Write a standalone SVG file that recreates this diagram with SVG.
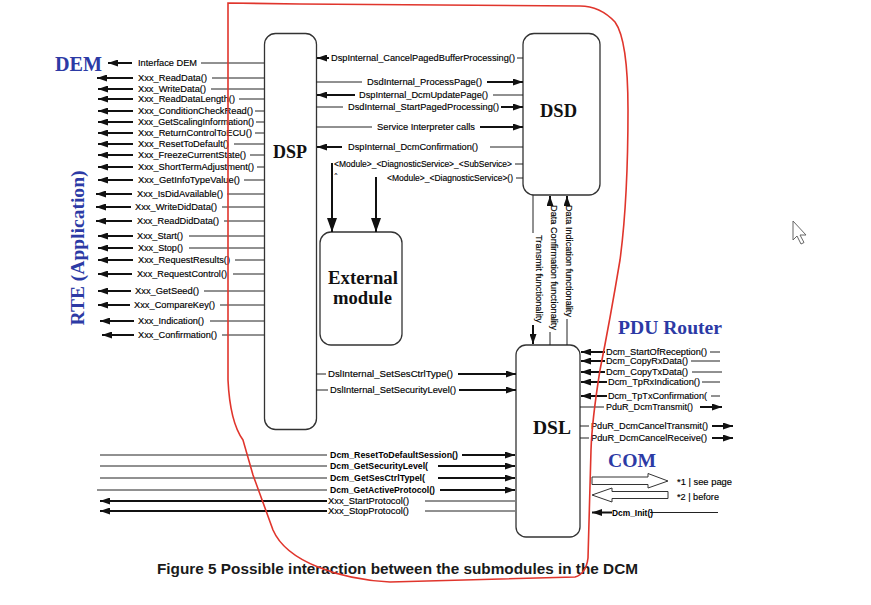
<svg xmlns="http://www.w3.org/2000/svg" width="871" height="605" viewBox="0 0 871 605">
<style>
.t{font-family:"Liberation Sans",Arial,sans-serif;font-size:9.3px;fill:#000;stroke:#000;stroke-width:0.15}
.s{font-size:9px}
.m{font-size:8.5px}
.b{font-weight:bold;font-size:8.8px;stroke-width:0}
.ttl{font-family:"Liberation Serif","Times New Roman",serif;font-weight:bold;fill:#111}
.blue{fill:#2c3aa5}
.thin{stroke:#222;stroke-width:1;fill:none}
.thick{stroke:#111;stroke-width:2;fill:none;marker-end:url(#a)}
.big{stroke:#111;stroke-width:2;fill:none;marker-end:url(#A)}
.box{fill:#fff;stroke:#333;stroke-width:1.3}
.hol{fill:#fff;stroke:#333;stroke-width:1}
.red{fill:none;stroke:#e0352c;stroke-width:1.6}
</style>
<defs>
<marker id="a" viewBox="0 0 10 7" markerWidth="10" markerHeight="7" refX="10" refY="3.5" orient="auto" markerUnits="userSpaceOnUse"><path d="M0,0L10,3.5L0,7z" fill="#111"/></marker>
<marker id="A" viewBox="0 0 14 10" markerWidth="14" markerHeight="10" refX="14" refY="5" orient="auto" markerUnits="userSpaceOnUse"><path d="M0,0L14,5L0,10z" fill="#111"/></marker>
</defs>
<rect width="871" height="605" fill="#fff"/>

<g id="DSP"><rect class="box" x="264.5" y="33.5" width="52" height="396" rx="11"/><text class="ttl" x="273" y="158" font-size="18.5" textLength="34" lengthAdjust="spacingAndGlyphs">DSP</text></g>
<g id="DSD"><rect class="box" x="523" y="33.5" width="77" height="161.5" rx="11"/><text class="ttl" x="540" y="117" font-size="18.5" textLength="37" lengthAdjust="spacingAndGlyphs">DSD</text></g>
<g id="DSL"><rect class="box" x="516" y="345" width="64" height="192" rx="10"/><text class="ttl" x="533" y="434" font-size="18.5" textLength="38" lengthAdjust="spacingAndGlyphs">DSL</text></g>
<g id="External"><rect class="box" x="320" y="232" width="82" height="113" rx="11"/><text class="ttl" x="328" y="284" font-size="18.5" textLength="70" lengthAdjust="spacingAndGlyphs">External</text><text class="ttl" x="333" y="304" font-size="18.5" textLength="59" lengthAdjust="spacingAndGlyphs">module</text></g>
<g id="DEM"><text class="ttl blue" x="55" y="71" font-size="20" textLength="47" lengthAdjust="spacingAndGlyphs">DEM</text></g>
<g id="RTE"><text class="ttl blue" transform="translate(84,248) rotate(-90)" text-anchor="middle" font-size="19.5" textLength="155" lengthAdjust="spacingAndGlyphs">RTE (Application)</text></g>
<g id="PDURouter"><text class="ttl blue" x="618" y="334" font-size="19.5" textLength="104" lengthAdjust="spacingAndGlyphs">PDU Router</text></g>
<g id="COM"><text class="ttl blue" x="608" y="467" font-size="19.5" textLength="48" lengthAdjust="spacingAndGlyphs">COM</text></g>

<g id="connectors">
<g>
<line class="thick" x1="132" y1="63" x2="108" y2="63"/><line class="thin" x1="201" y1="63" x2="264" y2="63"/>
<line class="thick" x1="133" y1="78" x2="97" y2="78"/><line class="thin" x1="212" y1="78" x2="264" y2="78"/>
<line class="thick" x1="133" y1="89" x2="98" y2="89"/><line class="thin" x1="211" y1="89" x2="264" y2="89"/>
<line class="thick" x1="133" y1="99" x2="98" y2="99"/><line class="thin" x1="239" y1="99" x2="264" y2="99"/>
<line class="thick" x1="133" y1="111" x2="98" y2="111"/><line class="thin" x1="255" y1="111" x2="264" y2="111"/>
<line class="thick" x1="133" y1="122" x2="98" y2="122"/><line class="thin" x1="256" y1="122" x2="264" y2="122"/>
<line class="thick" x1="133" y1="133" x2="98" y2="133"/><line class="thin" x1="255" y1="133" x2="264" y2="133"/>
<line class="thick" x1="133" y1="144" x2="98" y2="144"/><line class="thin" x1="234" y1="144" x2="264" y2="144"/>
<line class="thick" x1="133" y1="155" x2="98" y2="155"/><line class="thin" x1="250" y1="155" x2="264" y2="155"/>
<line class="thick" x1="133" y1="167" x2="98" y2="167"/><line class="thin" x1="257" y1="167" x2="264" y2="167"/>
<line class="thick" x1="133" y1="180" x2="98" y2="180"/><line class="thin" x1="244" y1="180" x2="264" y2="180"/>
<line class="thick" x1="132" y1="194" x2="96" y2="194"/><line class="thin" x1="227" y1="194" x2="264" y2="194"/>
<line class="thick" x1="131" y1="207" x2="96" y2="207"/><line class="thin" x1="222" y1="207" x2="264" y2="207"/>
<line class="thick" x1="132" y1="221" x2="96" y2="221"/><line class="thin" x1="224" y1="221" x2="264" y2="221"/>
<line class="thick" x1="133" y1="236" x2="98" y2="236"/><line class="thin" x1="189" y1="236" x2="264" y2="236"/>
<line class="thick" x1="133" y1="248" x2="98" y2="248"/><line class="thin" x1="189" y1="248" x2="264" y2="248"/>
<line class="thick" x1="133" y1="260" x2="98" y2="260"/><line class="thin" x1="235" y1="260" x2="264" y2="260"/>
<line class="thick" x1="132" y1="274" x2="98" y2="274"/><line class="thin" x1="233" y1="274" x2="264" y2="274"/>
<line class="thick" x1="131" y1="291" x2="98" y2="291"/><line class="thin" x1="204" y1="291" x2="264" y2="291"/>
<line class="thick" x1="130" y1="305" x2="98" y2="305"/><line class="thin" x1="220" y1="305" x2="264" y2="305"/>
<line class="thick" x1="134" y1="321" x2="100" y2="321"/><line class="thin" x1="210" y1="321" x2="264" y2="321"/>
<line class="thick" x1="134" y1="335" x2="102" y2="335"/><line class="thin" x1="222" y1="335" x2="264" y2="335"/>
</g>
<g class="t s">
<text x="138" y="66.2" textLength="59" lengthAdjust="spacingAndGlyphs">Interface DEM</text>
<text x="138" y="81.2" textLength="69" lengthAdjust="spacingAndGlyphs">Xxx_ReadData()</text>
<text x="138" y="92.2" textLength="68" lengthAdjust="spacingAndGlyphs">Xxx_WriteData()</text>
<text x="138" y="102.2" textLength="97" lengthAdjust="spacingAndGlyphs">Xxx_ReadDataLength()</text>
<text x="138" y="114.2" textLength="115" lengthAdjust="spacingAndGlyphs">Xxx_ConditionCheckRead()</text>
<text x="138" y="125.2" textLength="116" lengthAdjust="spacingAndGlyphs">Xxx_GetScalingInformation()</text>
<text x="138" y="136.2" textLength="114" lengthAdjust="spacingAndGlyphs">Xxx_ReturnControlToECU()</text>
<text x="138" y="147.2" textLength="91" lengthAdjust="spacingAndGlyphs">Xxx_ResetToDefault()</text>
<text x="138" y="158.2" textLength="108" lengthAdjust="spacingAndGlyphs">Xxx_FreezeCurrentState()</text>
<text x="138" y="170.2" textLength="116" lengthAdjust="spacingAndGlyphs">Xxx_ShortTermAdjustment()</text>
<text x="138" y="183.2" textLength="102" lengthAdjust="spacingAndGlyphs">Xxx_GetInfoTypeValue()</text>
<text x="137" y="197.2" textLength="86" lengthAdjust="spacingAndGlyphs">Xxx_IsDidAvailable()</text>
<text x="135" y="210.2" textLength="82" lengthAdjust="spacingAndGlyphs">Xxx_WriteDidData()</text>
<text x="137" y="224.2" textLength="82" lengthAdjust="spacingAndGlyphs">Xxx_ReadDidData()</text>
<text x="137" y="239.2" textLength="46" lengthAdjust="spacingAndGlyphs">Xxx_Start()</text>
<text x="138" y="251.2" textLength="45" lengthAdjust="spacingAndGlyphs">Xxx_Stop()</text>
<text x="138" y="263.2" textLength="92" lengthAdjust="spacingAndGlyphs">Xxx_RequestResults()</text>
<text x="137" y="277.2" textLength="90" lengthAdjust="spacingAndGlyphs">Xxx_RequestControl()</text>
<text x="135" y="294.2" textLength="64" lengthAdjust="spacingAndGlyphs">Xxx_GetSeed()</text>
<text x="134" y="308.2" textLength="81" lengthAdjust="spacingAndGlyphs">Xxx_CompareKey()</text>
<text x="138" y="324.2" textLength="66" lengthAdjust="spacingAndGlyphs">Xxx_Indication()</text>
<text x="138" y="338.2" textLength="79" lengthAdjust="spacingAndGlyphs">Xxx_Confirmation()</text>
</g>

<g>
<line class="thick" x1="329" y1="58" x2="317" y2="58"/><line class="thin" x1="517" y1="58" x2="523" y2="58"/>
<line class="thin" x1="316" y1="82" x2="362" y2="82"/><line class="thick" x1="487" y1="82" x2="523" y2="82"/>
<line class="thick" x1="355" y1="95" x2="317" y2="95"/><line class="thin" x1="493" y1="95" x2="523" y2="95"/>
<line class="thin" x1="316" y1="107" x2="343" y2="107"/><line class="thick" x1="501" y1="107" x2="523" y2="107"/>
<line class="thin" x1="316" y1="127" x2="372" y2="127"/><line class="thick" x1="480" y1="127" x2="523" y2="127"/>
<line class="thick" x1="342" y1="147" x2="317" y2="147"/><line class="thin" x1="490" y1="147" x2="523" y2="147"/>
<line class="thin" x1="515" y1="164" x2="523" y2="164"/>
<line class="thin" x1="516" y1="178" x2="523" y2="178"/>
<line class="big" x1="332" y1="163" x2="332" y2="232"/>
<line class="big" x1="376" y1="177" x2="376" y2="232"/>
</g>
<g class="t">
<text x="331" y="61.3" textLength="184" lengthAdjust="spacingAndGlyphs">DspInternal_CancelPagedBufferProcessing()</text>
<text x="367" y="85.3" textLength="115" lengthAdjust="spacingAndGlyphs">DsdInternal_ProcessPage()</text>
<text x="359" y="98.3" textLength="129" lengthAdjust="spacingAndGlyphs">DspInternal_DcmUpdatePage()</text>
<text x="348" y="110.3" textLength="151" lengthAdjust="spacingAndGlyphs">DsdInternal_StartPagedProcessing()</text>
<text x="377" y="130.3" textLength="98" lengthAdjust="spacingAndGlyphs">Service Interpreter calls</text>
<text x="348" y="150.3" textLength="130" lengthAdjust="spacingAndGlyphs">DspInternal_DcmConfirmation()</text>
<text class="m" x="334" y="167" textLength="178" lengthAdjust="spacingAndGlyphs">&lt;Module&gt;_&lt;DiagnosticService&gt;_&lt;SubService&gt;</text>
<text class="m" x="387" y="181" textLength="126" lengthAdjust="spacingAndGlyphs">&lt;Module&gt;_&lt;DiagnosticService&gt;()</text>
<text x="334.5" y="177" font-size="6">^</text>
</g>

<g>
<line class="thin" x1="316" y1="374" x2="326" y2="374"/><line class="thick" x1="458" y1="374" x2="516" y2="374"/>
<line class="thin" x1="316" y1="390" x2="328" y2="390"/><line class="thick" x1="459" y1="390" x2="516" y2="390"/>
</g>
<g class="t">
<text x="328" y="377.3" textLength="125" lengthAdjust="spacingAndGlyphs">DslInternal_SetSesCtrlType()</text>
<text x="330" y="393.3" textLength="126" lengthAdjust="spacingAndGlyphs">DslInternal_SetSecurityLevel()</text>
</g>

<g>
<line class="thin" x1="533" y1="195" x2="533" y2="233"/><line class="thick" x1="533" y1="325" x2="533" y2="344"/>
<line class="thick" x1="550" y1="204" x2="550" y2="196"/><line class="thin" x1="550" y1="332" x2="550" y2="345"/>
<line class="thick" x1="567" y1="204" x2="567" y2="196"/><line class="thin" x1="567" y1="319" x2="567" y2="345"/>
</g>
<g class="t">
<text transform="translate(536,235) rotate(90)" textLength="88" lengthAdjust="spacingAndGlyphs">Transmit functionality</text>
<text transform="translate(550.5,205) rotate(90)" textLength="125" lengthAdjust="spacingAndGlyphs">Data Confirmation functionality</text>
<text transform="translate(566,205) rotate(90)" textLength="112" lengthAdjust="spacingAndGlyphs">Data Indication functionality</text>
</g>

<g>
<line class="thick" x1="605" y1="352" x2="581" y2="352"/><line class="thin" x1="710" y1="352" x2="720" y2="352"/>
<line class="thick" x1="605" y1="361" x2="581" y2="361"/><line class="thin" x1="691" y1="361" x2="720" y2="361"/>
<line class="thick" x1="605" y1="372" x2="581" y2="372"/><line class="thin" x1="692" y1="372" x2="722" y2="372"/>
<line class="thick" x1="607" y1="382" x2="581" y2="382"/><line class="thin" x1="702" y1="382" x2="720" y2="382"/>
<line class="thick" x1="607" y1="396" x2="581" y2="396"/><line class="thin" x1="711" y1="396" x2="720" y2="396"/>
<line class="thin" x1="580" y1="407" x2="604" y2="407"/><line class="thick" x1="700" y1="407" x2="722" y2="407"/>
<line class="thin" x1="580" y1="426" x2="589" y2="426"/><line class="thick" x1="712" y1="426" x2="733" y2="426"/>
<line class="thin" x1="580" y1="438" x2="589" y2="438"/><line class="thick" x1="712" y1="438" x2="733" y2="438"/>
</g>
<g class="t">
<text x="606" y="355.3" textLength="101" lengthAdjust="spacingAndGlyphs">Dcm_StartOfReception()</text>
<text x="606" y="364.3" textLength="82" lengthAdjust="spacingAndGlyphs">Dcm_CopyRxData()</text>
<text x="606" y="375.3" textLength="82" lengthAdjust="spacingAndGlyphs">Dcm_CopyTxData()</text>
<text x="608" y="385.3" textLength="92" lengthAdjust="spacingAndGlyphs">Dcm_TpRxIndication()</text>
<text x="608" y="399.3" textLength="99" lengthAdjust="spacingAndGlyphs">Dcm_TpTxConfirmation(</text>
<text x="606" y="410.3" textLength="87" lengthAdjust="spacingAndGlyphs">PduR_DcmTransmit()</text>
<text x="591" y="429.3" textLength="117" lengthAdjust="spacingAndGlyphs">PduR_DcmCancelTransmit()</text>
<text x="591" y="441.3" textLength="116" lengthAdjust="spacingAndGlyphs">PduR_DcmCancelReceive()</text>
</g>

<g>
<polygon class="hol" points="592,477 648,477 648,473.5 668,481 648,488 648,484.5 592,484.5"/>
<polygon class="hol" points="592,495 612,488 612,491.5 668,491.5 668,498.5 612,498.5 612,502"/>
<line class="thick" x1="612" y1="512.5" x2="592" y2="512.5"/><line class="thin" x1="650" y1="512.5" x2="718" y2="512.5"/>
</g>
<g class="t">
<text x="677" y="485" textLength="55" lengthAdjust="spacingAndGlyphs">*1 | see page</text>
<text x="677" y="500" textLength="42" lengthAdjust="spacingAndGlyphs">*2 | before</text>
<text class="b" x="612" y="515.6" textLength="41" lengthAdjust="spacingAndGlyphs">Dcm_Init()</text>
</g>

<g>
<line class="thin" x1="100" y1="455" x2="327" y2="455"/><line class="thick" x1="462" y1="455" x2="515" y2="455"/>
<line class="thin" x1="100" y1="466" x2="327" y2="466"/><line class="thick" x1="438" y1="466" x2="515" y2="466"/>
<line class="thin" x1="100" y1="478" x2="327" y2="478"/><line class="thick" x1="438" y1="478" x2="515" y2="478"/>
<line class="thin" x1="97" y1="490" x2="327" y2="490"/><line class="thick" x1="440" y1="490" x2="515" y2="490"/>
<line class="thick" x1="327" y1="501" x2="100" y2="501"/><line class="thin" x1="425" y1="501" x2="515" y2="501"/>
<line class="thick" x1="327" y1="511" x2="100" y2="511"/><line class="thin" x1="425" y1="511" x2="515" y2="511"/>
</g>
<g class="t">
<text class="b" x="330" y="458.2" textLength="128" lengthAdjust="spacingAndGlyphs">Dcm_ResetToDefaultSession()</text>
<text class="b" x="330" y="469.2" textLength="98" lengthAdjust="spacingAndGlyphs">Dcm_GetSecurityLevel(</text>
<text class="b" x="330" y="481.2" textLength="95" lengthAdjust="spacingAndGlyphs">Dcm_GetSesCtrlTypel(</text>
<text class="b" x="330" y="493.2" textLength="105" lengthAdjust="spacingAndGlyphs">Dcm_GetActiveProtocol()</text>
<text x="328" y="504.3" textLength="81" lengthAdjust="spacingAndGlyphs">Xxx_StartProtocol()</text>
<text x="328" y="514.3" textLength="81" lengthAdjust="spacingAndGlyphs">Xxx_StopProtocol()</text>
</g>
</g>

<text x="157" y="574" font-family="Liberation Sans,Arial,sans-serif" font-weight="bold" font-size="15.3" fill="#1a1a1a" textLength="481" lengthAdjust="spacingAndGlyphs">Figure 5 Possible interaction between the submodules in the DCM</text>

<path class="red" d="M228,3 L228,380 Q230,422 243,440 L253,475 L273,530 Q283,553 318,567 Q350,580 390,582 L575,577 Q586,574 588,558 L591,450 Q592,420 600,370 Q610,320 620,260 Q628,200 628,110 Q628,40 615,22 Q600,6 580,6 L300,4 Z"/>

<polygon points="793,221 793,240 797,236 801,244 804,242.5 800,235 806,235" fill="#fff" stroke="#666" stroke-width="1"/>
</svg>
